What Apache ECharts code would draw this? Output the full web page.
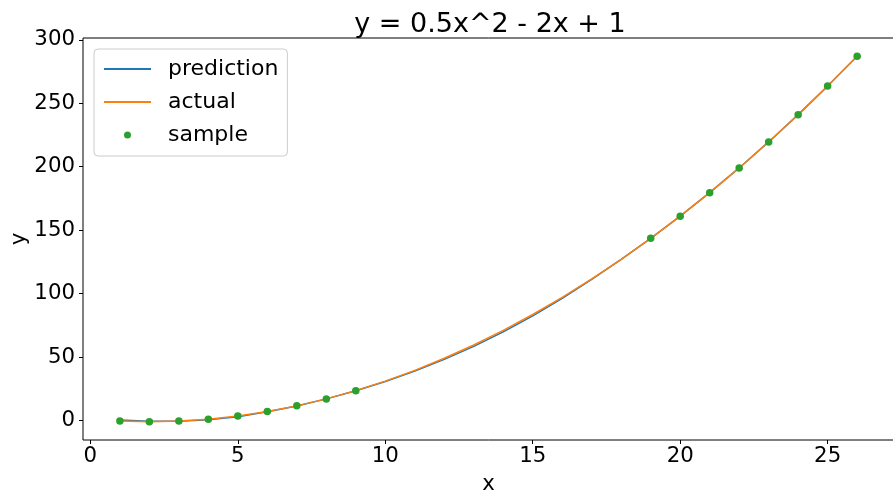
<!DOCTYPE html>
<html>
<head>
<meta charset="utf-8">
<script src="https://cdn.jsdelivr.net/npm/echarts@6/dist/echarts.min.js"></script>
<style>
html,body{margin:0;padding:0;background:#fff;}
#chart{width:893px;height:498px;}
</style>
</head>
<body>
<div id="chart"></div>
<script>
// Data
var lineX = [1,2,3,4,5,6,7,8,9,10,11,12,13,14,15,16,17,18,19,20,21,22,23,24,25,26];
var actualY = [-0.5,-1,-0.5,1,3.5,7,11.5,17,23.5,31,39.5,49,59.5,71,83.5,97,111.5,127,143.5,161,179.5,199,219.5,241,263.5,287];
var predictionY = [0.3,-0.6,-0.6,0.6,3.0,6.8,11.4,17.0,23.4,30.7,38.9,48.1,58.4,69.8,82.4,96.3,111.1,126.9,143.5,161,179.5,199,219.5,241,263.5,287];
var sampleX = [1,2,3,4,5,6,7,8,9,19,20,21,22,23,24,25,26];
var sampleY = [-0.5,-1,-0.5,1,3.5,7,11.5,17,23.5,143.5,161,179.5,199,219.5,241,263.5,287];
var xTicks = [0,5,10,15,20,25];
var yTicks = [0,50,100,150,200,250,300];
var titleText = 'y = 0.5x^2 - 2x + 1';
var seriesNames = ['prediction','actual','sample'];

function zip(xs, ys){ return xs.map(function(x,i){ return [x, ys[i]]; }); }

var FONT = 'DejaVu Sans';
var chart = echarts.init(document.getElementById('chart'), null, {renderer:'canvas'});
chart.setOption({
  animation: false,
  backgroundColor: '#ffffff',
  title: {
    text: titleText,
    left: 485, textAlign: 'center',
    top: 6,
    textStyle: {fontFamily: FONT, fontSize: 27, fontWeight: 'normal', color: '#000'}
  },
  grid: {
    left: 83, top: 38, width: 811, height: 402,
    outerBoundsMode: 'none', containLabel: false,
    show: true, borderColor: '#000', borderWidth: 1, backgroundColor: 'transparent'
  },
  legend: {
    orient: 'vertical',
    left: 94, top: 49,
    padding: [9, 9, 10, 9],
    itemWidth: 47, itemHeight: 7, itemGap: 11,
    borderColor: '#cccccc', borderWidth: 1, borderRadius: 4,
    backgroundColor: 'rgba(255,255,255,0.8)',
    textStyle: {fontFamily: FONT, fontSize: 22, color: '#000', padding: [0,0,0,12]},
    data: [
      {name: seriesNames[0], itemStyle: {color: 'rgba(0,0,0,0)', borderWidth: 0}},
      {name: seriesNames[1], itemStyle: {color: 'rgba(0,0,0,0)', borderWidth: 0}},
      {name: seriesNames[2], icon: 'circle'}
    ]
  },
  xAxis: {
    type: 'value', min: -0.25, max: 27.25,
    name: 'x', nameLocation: 'middle', nameGap: 34, nameMoveOverlap: false,
    nameTextStyle: {fontFamily: FONT, fontSize: 21.3, color: '#000'},
    axisLine: {show: false, onZero: false},
    axisTick: {show: true, inside: false, customValues: xTicks, length: 4, lineStyle: {color: '#000', width: 1}},
    axisLabel: {customValues: xTicks, fontFamily: FONT, fontSize: 21.3, color: '#000', margin: 6},
    splitLine: {show: false}
  },
  yAxis: {
    type: 'value', min: -15.4, max: 301.4,
    name: 'y', nameLocation: 'middle', nameGap: 53, nameRotate: 90, nameMoveOverlap: false,
    nameTextStyle: {fontFamily: FONT, fontSize: 21.3, color: '#000'},
    axisLine: {show: false, onZero: false},
    axisTick: {show: true, inside: false, customValues: yTicks, length: 4, lineStyle: {color: '#000', width: 1}},
    axisLabel: {customValues: yTicks, fontFamily: FONT, fontSize: 21.3, color: '#000', margin: 8},
    splitLine: {show: false}
  },
  series: [
    {name: seriesNames[0], type: 'line', data: zip(lineX, predictionY), symbol: 'none',
     lineStyle: {color: '#1f77b4', width: 1.5}, itemStyle: {color: '#1f77b4'}, z: 2},
    {name: seriesNames[1], type: 'line', data: zip(lineX, actualY), symbol: 'none',
     lineStyle: {color: '#ff7f0e', width: 1.5}, itemStyle: {color: '#ff7f0e'}, z: 3},
    {name: seriesNames[2], type: 'scatter', data: zip(sampleX, sampleY), symbol: 'circle', symbolSize: 7.5,
     itemStyle: {color: '#2ca02c', opacity: 1}, z: 4}
  ]
});
</script>
</body>
</html>
